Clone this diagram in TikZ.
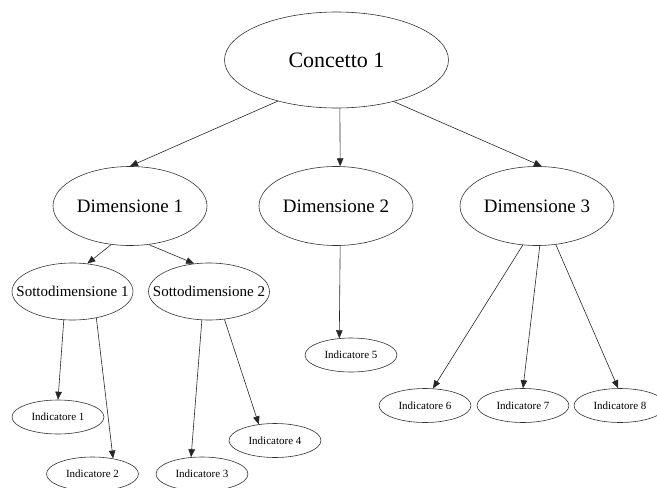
\documentclass[tikz,border=0pt]{standalone}
\usepackage{fontspec}
\setmainfont{Liberation Serif}
\usetikzlibrary{shapes.geometric,arrows.meta}
\newcommand{\ctext}[1]{\makebox[0pt][c]{#1}}
\begin{document}
\begin{tikzpicture}[x=1pt,y=-1pt,
  ell/.style={ellipse,draw=black!80,line width=0.6pt,inner sep=0pt},
  big/.style={ell,minimum width=224pt,minimum height=96pt,font=\fontsize{22}{24}\selectfont},
  dim/.style={ell,minimum width=154pt,minimum height=79pt,font=\fontsize{19}{21}\selectfont},
  sub/.style={ell,minimum width=121pt,minimum height=57pt,font=\fontsize{15}{17}\selectfont},
  ind/.style={ell,minimum width=92pt,minimum height=34pt,font=\fontsize{11}{13}\selectfont},
  edge/.style={draw=black!85,line width=0.6pt,-{Triangle[length=8pt,width=6.5pt]}}]
\useasboundingbox (0,0) rectangle (657,488);
\node[big] (C1) at (336.5,60) {\ctext{Concetto 1}};
\node[dim] (D1) at (130,206) {\ctext{Dimensione 1}};
\node[dim] (D2) at (336,206) {\ctext{Dimensione 2}};
\node[dim] (D3) at (537,206) {\ctext{Dimensione 3}};
\node[sub] (S1) at (72.5,291.5) {\ctext{Sottodimensione 1}};
\node[sub] (S2) at (209,291.5) {\ctext{Sottodimensione 2}};
\node[ind] (I1) at (58,417) {\ctext{Indicatore 1}};
\node[ind] (I2) at (92.5,474) {\ctext{Indicatore 2}};
\node[ind] (I3) at (202,474) {\ctext{Indicatore 3}};
\node[ind] (I4) at (275,440.5) {\ctext{Indicatore 4}};
\node[ind] (I5) at (351,355) {\ctext{Indicatore 5}};
\node[ind] (I6) at (425,405.5) {\ctext{Indicatore 6}};
\node[ind] (I7) at (523,405.5) {\ctext{Indicatore 7}};
\node[ind] (I8) at (620,405.5) {\ctext{Indicatore 8}};
\draw[edge] (C1.215.6) -- (D1.90);
\draw[edge] (C1.274) -- (D2.84);
\draw[edge] (C1.324.6) -- (D3.83);
\draw[edge] (D1.244) -- (S1.62);
\draw[edge] (D1.296.6) -- (S2.118);
\draw[edge] (S1.253) -- (I1.90);
\draw[edge] (S1.312) -- (I2.37);
\draw[edge] (S2.256) -- (I3.123.7);
\draw[edge] (S2.299) -- (I4.135.8);
\draw[edge] (D2.276) -- (I5.125);
\draw[edge] (D3.250.7) -- (I6.65.4);
\draw[edge] (D3.274) -- (I7.90);
\draw[edge] (D3.296.6) -- (I8.96.5);
\end{tikzpicture}
\end{document}
